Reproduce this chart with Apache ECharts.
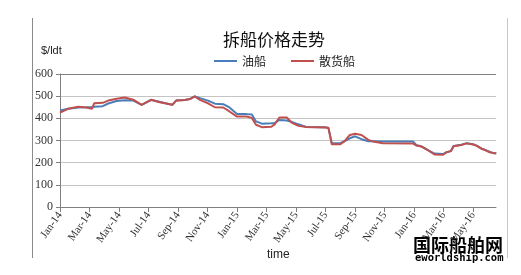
<!DOCTYPE html>
<html>
<head>
<meta charset="utf-8">
<script src="https://cdn.jsdelivr.net/npm/echarts@6/dist/echarts.min.js"></script>
<style>
html,body{margin:0;padding:0;background:#fff;}
#c{width:521px;height:275px;}
</style>
</head>
<body>
<div id="c"></div>
<script>
var titleText = '拆船价格走势';
var seriesNames = ['油船', '散货船'];
var yTicks = [0, 100, 200, 300, 400, 500, 600];
var monthNames = ['Jan','Feb','Mar','Apr','May','Jun','Jul','Aug','Sep','Oct','Nov','Dec'];

var dates = ['2014-01-01','2014-01-18','2014-02-08','2014-02-23','2014-03-06','2014-03-11','2014-03-29','2014-04-09','2014-04-26','2014-05-13','2014-05-31','2014-06-17','2014-07-07','2014-07-22','2014-08-05','2014-08-20','2014-08-28','2014-09-15','2014-09-25','2014-10-05','2014-10-16','2014-11-02','2014-11-16','2014-12-03','2014-12-16','2015-01-01','2015-01-21','2015-02-01','2015-02-09','2015-02-20','2015-03-11','2015-03-18','2015-03-28','2015-04-12','2015-04-22','2015-05-06','2015-05-16','2015-05-22','2015-06-30','2015-07-07','2015-07-14','2015-08-01','2015-08-10','2015-08-21','2015-09-01','2015-09-14','2015-09-28','2015-10-08','2015-10-28','2015-12-30','2016-01-06','2016-01-16','2016-01-31','2016-02-12','2016-02-29','2016-03-07','2016-03-16','2016-03-22','2016-04-07','2016-04-18','2016-05-01','2016-05-08','2016-05-19','2016-05-25','2016-06-05','2016-06-13','2016-06-18'];

var tanker = [435,443,449,450,451,452,455,467,478,482,480,461,483,476,468,461,480,483,487,499,491,480,466,464,449,420,419,417,386,376,378,379,393,390,384,373,366,361,360,357,288,288,297,310,319,306,297,297,295,295,279,274,256,241,239,247,252,275,281,288,283,277,263,259,248,243,242];

var bulker = [426,443,452,449,443,468,470,480,488,494,484,461,484,474,468,461,480,483,487,499,483,468,450,449,431,408,408,402,371,360,362,373,404,404,381,366,363,361,359,357,283,283,297,325,330,325,303,295,288,286,277,273,255,237,236,247,252,274,280,287,282,277,262,258,247,243,242];

function monthIndex(s){
  var p = s.split('-').map(Number);
  var dim = new Date(p[0], p[1], 0).getDate();
  return (p[0]-2014)*12 + (p[1]-1) + (p[2]-1)/dim;
}
function pairs(vals){ return dates.map(function(d,i){ return [monthIndex(d), vals[i]]; }); }

var chart = echarts.init(document.getElementById('c'));
chart.setOption({
  animation:false,
  backgroundColor:'#fff',
  title:{
    text:titleText, left:218, top:26,
    textStyle:{fontFamily:'"Noto Sans CJK SC"', fontSize:17, fontWeight:'normal', color:'#111'}
  },
  legend:{
    data:seriesNames, left:209, top:50, itemGap:25,
    itemWidth:23, itemHeight:2, icon:'rect',
    textStyle:{fontFamily:'"Noto Sans CJK SC"', fontSize:12, color:'#222'}
  },
  grid:{left:60, right:25, top:74, bottom:68},
  xAxis:{
    type:'value', min:0, max:29.55, interval:2,
    axisLine:{lineStyle:{color:'#808080', width:1}},
    axisTick:{show:true, length:5, lineStyle:{color:'#808080'}},
    splitLine:{show:false},
    axisLabel:{
      rotate:55, margin:6, color:'#333', fontFamily:'"Liberation Serif"', fontSize:11,
      showMaxLabel:false,
      formatter:function(v){
        var m = Math.round(v);
        return monthNames[m%12] + '-' + String(14 + Math.floor(m/12));
      }
    }
  },
  yAxis:{
    type:'value', min:0, max:600, interval:100,
    axisLine:{show:true, lineStyle:{color:'#808080'}},
    axisTick:{show:true, length:4, lineStyle:{color:'#808080'}},
    splitLine:{lineStyle:{color:['#808080','#c4c4c4','#c4c4c4','#c4c4c4','#c4c4c4','#c4c4c4','#808080']}},
    axisLabel:{margin:7, color:'#333', fontFamily:'"Liberation Serif"', fontSize:12,
      formatter:function(v){ return String(v); }}
  },
  series:[
    {name:seriesNames[0], type:'line', data:pairs(tanker), showSymbol:false, symbol:'none',
     lineStyle:{color:'#4a7ebb', width:2}, itemStyle:{color:'#4a7ebb'}, z:2},
    {name:seriesNames[1], type:'line', data:pairs(bulker), showSymbol:false, symbol:'none',
     lineStyle:{color:'#c0504d', width:2}, itemStyle:{color:'#c0504d'}, z:3}
  ],
  graphic:[
    {type:'line', shape:{x1:32.5,y1:18,x2:32.5,y2:258}, style:{stroke:'#8a8a8a', lineWidth:1}},
    {type:'line', shape:{x1:507.5,y1:18,x2:507.5,y2:258}, style:{stroke:'#c8c8c8', lineWidth:1}},
    {type:'text', left:41, top:45, style:{text:'$/ldt', fontFamily:'"Liberation Sans"', fontSize:11, fill:'#222'}},
    {type:'text', left:267, top:249, style:{text:'time', fontFamily:'"Liberation Sans"', fontSize:12, fill:'#222'}},
    {type:'text', left:413, top:236, style:{text:'国际船舶网', fontFamily:'"Noto Sans CJK SC"', fontSize:18, fontWeight:'bold', fill:'#000'}},
    {type:'text', left:415, top:253, style:{text:'eworldship.com', fontFamily:'"DejaVu Sans Mono"', fontSize:10.5, fontWeight:'bold', fill:'#000'}}
  ]
});
</script>
</body>
</html>
